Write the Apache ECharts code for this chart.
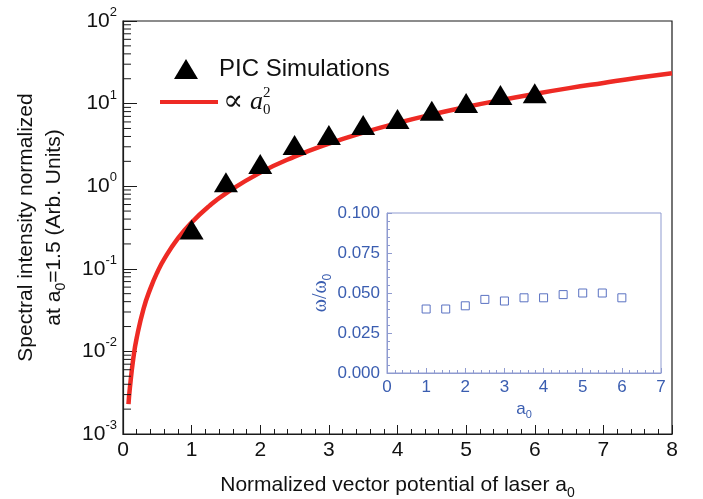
<!DOCTYPE html>
<html>
<head>
<meta charset="utf-8">
<script src="https://cdn.jsdelivr.net/npm/echarts@6/dist/echarts.min.js"></script>
<style>
  html, body { margin: 0; padding: 0; background: #fff; }
  #chart { width: 703px; height: 499px; }
</style>
</head>
<body>
<div id="chart"></div>
<script>
// PIC simulation points (main panel, log y)
const simA0 = [1, 1.5, 2, 2.5, 3, 3.5, 4, 4.5, 5, 5.5, 6];
const simIntensity = [0.30, 1.12, 1.86, 3.15, 4.17, 5.5, 6.5, 8.2, 10.2, 12.7, 13.3];

// red curve (∝ a0^2)
const fitA0 = [0.08, 0.1, 0.15, 0.2, 0.3, 0.4, 0.5, 0.6, 0.8, 1, 1.25, 1.5, 2, 2.5, 3, 3.5, 4, 4.5, 5, 5.5, 6, 6.5, 7, 7.5, 8];
const fitIntensity = [0.0023, 0.0036, 0.0082, 0.0146, 0.033, 0.058, 0.091, 0.131, 0.233, 0.364, 0.57, 0.82, 1.46, 2.28, 3.28, 4.46, 5.82, 7.37, 9.1, 11.0, 13.1, 15.4, 17.8, 20.5, 23.3];

// inset: omega / omega0
const insetA0 = [1, 1.5, 2, 2.5, 3, 3.5, 4, 4.5, 5, 5.5, 6];
const omegaRatio = [0.040, 0.040, 0.042, 0.046, 0.045, 0.047, 0.047, 0.049, 0.050, 0.050, 0.047];

// log axis minor ticks (2..9 in each decade)
const logDecades = [0.001, 0.01, 0.1, 1, 10];
const logMinorSteps = [2, 3, 4, 5, 6, 7, 8, 9];

const SANS = "'Liberation Sans', Arial, sans-serif";
const SERIF = "'Liberation Serif', 'DejaVu Serif', serif";
const INK = "#1a1a1a";
const BLUE = "#3a5db0";
const INSET_LINE = "#8f9bd0";

const minorTicks = [];
logDecades.forEach(d => logMinorSteps.forEach(s => minorTicks.push([0, d * s])));

const chart = echarts.init(document.getElementById("chart"));

const option = {
  animation: false,
  grid: [
    { left: 123, top: 21, width: 549, height: 413, outerBoundsMode: "none", containLabel: false, show: true, borderColor: INK, borderWidth: 1.2, backgroundColor: "transparent" },
    { left: 387, top: 213, width: 274, height: 160, outerBoundsMode: "none", containLabel: false, show: true, borderColor: INSET_LINE, borderWidth: 1, backgroundColor: "#fff" },
  ],
  legend: [
    {
      data: ["PIC Simulations"],
      left: 169, top: 52,
      itemWidth: 24, itemHeight: 20,
      selectedMode: false,
      textStyle: { fontSize: 24, fontFamily: SANS, color: "#111", padding: [0, 0, 0, 16] },
    },
    {
      data: [{ name: "fit", icon: "rect" }],
      left: 155, top: 81,
      itemWidth: 58, itemHeight: 4,
      selectedMode: false,
      formatter: () => "{s|∝}  {a|a}{b|0}{c|2}",
      textStyle: {
        padding: [0, 0, 0, 0],
        rich: {
          s: { fontSize: 30, fontFamily: SERIF, color: "#111", lineHeight: 32 },
          a: { fontSize: 26, fontFamily: SERIF, fontStyle: "italic", color: "#111", lineHeight: 32 },
          b: { fontSize: 15, fontFamily: SERIF, color: "#111", width: 0, verticalAlign: "bottom", lineHeight: 14 },
          c: { fontSize: 15, fontFamily: SERIF, color: "#111", verticalAlign: "top", lineHeight: 12 },
        },
      },
    },
  ],
  xAxis: [
    {
      type: "value", gridIndex: 0, min: 0, max: 8, interval: 1,
      axisLine: { show: true, lineStyle: { color: INK, width: 1.2 } },
      axisTick: { show: true, inside: true, length: 9, lineStyle: { color: INK } },
      minorTick: { show: true, splitNumber: 5, length: 5, lineStyle: { color: INK } },
      splitLine: { show: false },
      axisLabel: { fontSize: 21, fontFamily: SANS, color: "#111", margin: 6 },
      name: "Normalized vector potential of laser a{sub|0}",
      nameLocation: "middle", nameGap: 36,
      nameTextStyle: {
        fontSize: 21, fontFamily: SANS, color: "#111", lineHeight: 30,
        rich: { sub: { fontSize: 14, fontFamily: SANS, color: "#111", verticalAlign: "bottom", lineHeight: 12 } },
      },
    },
    {
      type: "value", gridIndex: 1, min: 0, max: 7, interval: 1,
      axisLine: { show: true, lineStyle: { color: INSET_LINE, width: 1 } },
      axisTick: { show: true, inside: true, length: 5, lineStyle: { color: INSET_LINE } },
      minorTick: { show: true, splitNumber: 5, length: 3, lineStyle: { color: INSET_LINE } },
      splitLine: { show: false },
      axisLabel: { fontSize: 17, fontFamily: SANS, color: BLUE, margin: 6 },
      name: "a{sub|0}",
      nameLocation: "middle", nameGap: 20,
      nameTextStyle: {
        fontSize: 17, fontFamily: SANS, color: BLUE, lineHeight: 24,
        rich: { sub: { fontSize: 11, fontFamily: SANS, color: BLUE, verticalAlign: "bottom", lineHeight: 10 } },
      },
    },
  ],
  yAxis: [
    {
      type: "log", logBase: 10, gridIndex: 0, min: 0.001, max: 100,
      axisLine: { show: true, lineStyle: { color: INK, width: 1.2 } },
      axisTick: { show: true, inside: true, length: 14, lineStyle: { color: INK } },
      splitLine: { show: false },
      axisLabel: {
        margin: 6,
        formatter: v => "{b|10}{e|" + Math.round(Math.log10(v)) + "}",
        rich: {
          b: { fontSize: 21, fontFamily: SANS, color: "#111", lineHeight: 30 },
          e: { fontSize: 13, fontFamily: SANS, color: "#111", verticalAlign: "top", lineHeight: 14 },
        },
      },
      name: "Spectral intensity normalized\nat a{sub|0}=1.5 (Arb. Units)",
      nameLocation: "middle", nameGap: 55, nameRotate: 90,
      nameTextStyle: {
        fontSize: 21, fontFamily: SANS, color: "#111", lineHeight: 28,
        rich: { sub: { fontSize: 14, fontFamily: SANS, color: "#111", verticalAlign: "bottom", lineHeight: 12 } },
      },
    },
    {
      type: "value", gridIndex: 1, min: 0, max: 0.1, interval: 0.025,
      axisLine: { show: true, lineStyle: { color: INSET_LINE, width: 1 } },
      axisTick: { show: true, inside: true, length: 5, lineStyle: { color: INSET_LINE } },
      minorTick: { show: true, splitNumber: 5, length: 3, lineStyle: { color: INSET_LINE } },
      splitLine: { show: false },
      axisLabel: { fontSize: 17, fontFamily: SANS, color: BLUE, margin: 7, formatter: v => v.toFixed(3) },
      name: "ω/ω{sub|0}",
      nameLocation: "middle", nameGap: 53, nameRotate: 90,
      nameTextStyle: {
        fontSize: 20, fontFamily: SERIF, color: BLUE, lineHeight: 26,
        rich: { sub: { fontSize: 12, fontFamily: SANS, color: BLUE, verticalAlign: "bottom", lineHeight: 10 } },
      },
    },
  ],
  series: [
    {
      name: "fit",
      type: "line",
      xAxisIndex: 0, yAxisIndex: 0,
      data: fitA0.map((a, i) => [a, fitIntensity[i]]),
      symbol: "none",
      smooth: true,
      lineStyle: { color: "#ee2a24", width: 4.5 },
      itemStyle: { color: "#ee2a24" },
      z: 2,
    },
    {
      name: "PIC Simulations",
      type: "scatter",
      xAxisIndex: 0, yAxisIndex: 0,
      data: simA0.map((a, i) => [a, simIntensity[i]]),
      symbol: "triangle",
      symbolSize: [24, 20],
      itemStyle: { color: "#000", opacity: 1 },
      z: 3,
    },
    {
      name: "omega",
      type: "scatter",
      xAxisIndex: 1, yAxisIndex: 1,
      data: insetA0.map((a, i) => [a, omegaRatio[i]]),
      symbol: "rect",
      symbolSize: 8,
      itemStyle: { color: "#fff", borderColor: "#5a72c2", borderWidth: 1, opacity: 1 },
      z: 3,
    },
    {
      // minor ticks of the log axis at 2..9 of every decade
      name: "logMinor",
      type: "custom",
      xAxisIndex: 0, yAxisIndex: 0,
      silent: true,
      clip: false,
      encode: { x: 0, y: 1 },
      data: minorTicks,
      z: 4,
      renderItem: (params, api) => {
        const p = api.coord([api.value(0), api.value(1)]);
        return {
          type: "line",
          shape: { x1: p[0], y1: p[1], x2: p[0] + 8, y2: p[1] },
          style: { stroke: INK, lineWidth: 1 },
        };
      },
    },
  ],
};

chart.setOption(option);
</script>
</body>
</html>
